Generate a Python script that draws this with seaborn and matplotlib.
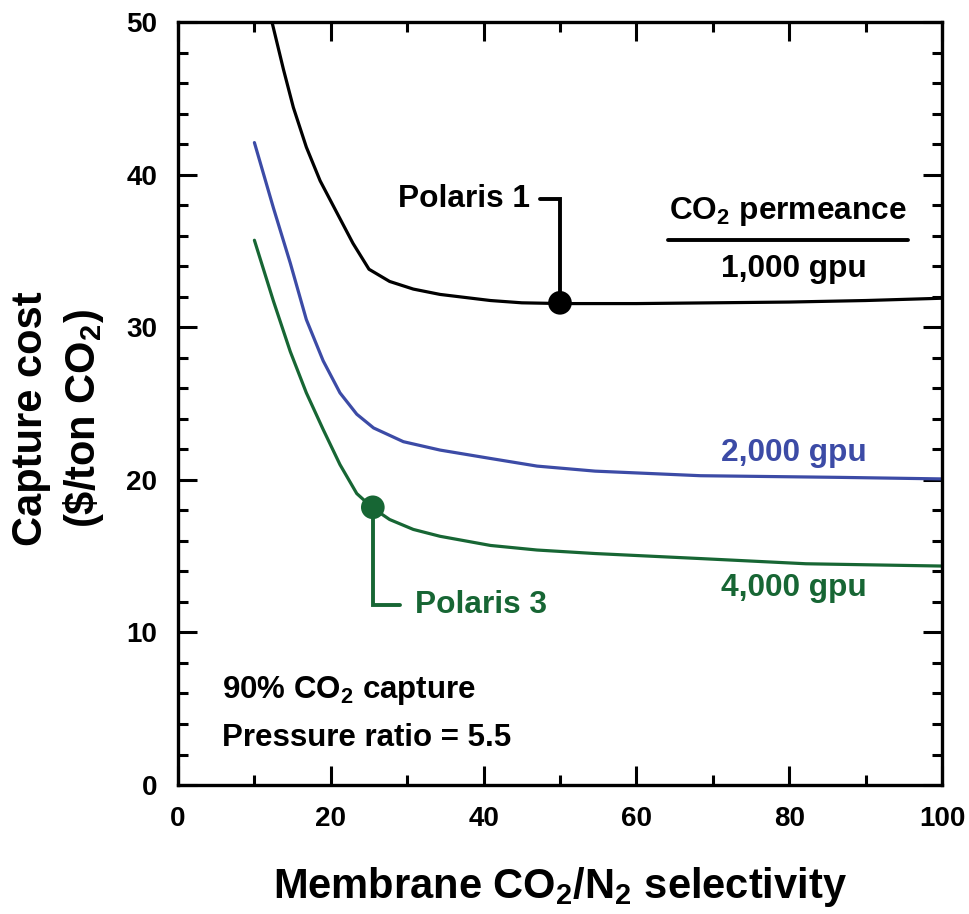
import numpy as np
import pandas as pd
import seaborn as sns
import matplotlib.pyplot as plt
from matplotlib.ticker import MultipleLocator

# values
sel_1000 = [12.3, 13.8, 15.1, 16.8, 18.6, 20.8, 22.9, 25.0, 27.7, 30.8, 34.3, 40.9, 45.0, 50.3,
            60.0, 70.0, 80.0, 90.0, 100.0]
cost_1000 = [50.0, 46.9, 44.4, 41.8, 39.6, 37.5, 35.5, 33.8, 33.0, 32.5, 32.15, 31.75, 31.6, 31.55,
             31.55, 31.6, 31.65, 31.75, 31.9]

sel_2000 = [10.0, 12.5, 14.7, 16.8, 19.0, 21.2, 23.4, 25.6, 29.5, 34.3, 40.9, 47.0, 54.6, 68.4, 86.8, 100.0]
cost_2000 = [42.1, 37.8, 34.2, 30.5, 27.8, 25.7, 24.3, 23.4, 22.5, 21.95, 21.4, 20.9, 20.57, 20.27, 20.16, 20.06]

sel_4000 = [10.0, 12.5, 14.7, 16.8, 19.0, 21.2, 23.4, 25.5, 27.7, 30.8, 34.3, 40.9, 47.0, 54.6, 68.4, 82.2, 100.0]
cost_4000 = [35.7, 31.7, 28.4, 25.7, 23.3, 21.0, 19.1, 18.15, 17.4, 16.75, 16.3, 15.7, 15.4, 15.17, 14.84, 14.5, 14.35]

permeances = ['1,000 gpu', '2,000 gpu', '4,000 gpu']
colors = ['#000000', '#3C4BA6', '#176634']

polaris_names = ['Polaris 1', 'Polaris 3']
polaris_sel = [50.0, 25.5]
polaris_cost = [31.6, 18.2]

df = pd.concat([
    pd.DataFrame({'sel': sel_1000, 'cost': cost_1000, 'perm': permeances[0]}),
    pd.DataFrame({'sel': sel_2000, 'cost': cost_2000, 'perm': permeances[1]}),
    pd.DataFrame({'sel': sel_4000, 'cost': cost_4000, 'perm': permeances[2]}),
])
pts = pd.DataFrame({'sel': polaris_sel, 'cost': polaris_cost, 'name': polaris_names})

sns.set_style('ticks')
plt.rcParams['font.family'] = ['Liberation Sans', 'DejaVu Sans']
plt.rcParams['font.weight'] = 'bold'
plt.rcParams['axes.labelweight'] = 'bold'
plt.rcParams['text.color'] = 'black'
plt.rcParams['axes.labelcolor'] = 'black'
plt.rcParams['xtick.color'] = 'black'
plt.rcParams['ytick.color'] = 'black'
plt.rcParams['mathtext.fontset'] = 'custom'
plt.rcParams['mathtext.rm'] = 'Liberation Sans:bold'
plt.rcParams['mathtext.bf'] = 'Liberation Sans:bold'
plt.rcParams['mathtext.it'] = 'Liberation Sans:bold'

fig = plt.figure(figsize=(9.69, 9.14), dpi=100)
ax = fig.add_axes([0.1837, 0.1411, 0.7884, 0.8348])

sns.lineplot(data=df, x='sel', y='cost', hue='perm', palette=dict(zip(permeances, colors)),
             sort=False, estimator=None, lw=2.3, legend=False, ax=ax)
sns.scatterplot(data=pts, x='sel', y='cost', hue='name', palette=[colors[0], colors[2]],
                s=290, edgecolor='none', legend=False, ax=ax, zorder=5)

# leader lines for Polaris labels
ax.plot([polaris_sel[0] - 2.6, polaris_sel[0], polaris_sel[0]],
        [38.4, 38.4, polaris_cost[0]], color=colors[0], lw=2.8, solid_joinstyle='miter')
ax.text(polaris_sel[0] - 3.9, 38.4, polaris_names[0], ha='right', va='center', fontsize=22.8, color=colors[0])
ax.plot([polaris_sel[1], polaris_sel[1], polaris_sel[1] + 3.6],
        [polaris_cost[1], 11.8, 11.8], color=colors[2], lw=2.8, solid_joinstyle='miter')
ax.text(polaris_sel[1] + 5.5, 11.8, polaris_names[1], ha='left', va='center', fontsize=22.8, color=colors[2])

# permeance "legend"
ax.text(79.8, 37.6, r'CO$_2$ permeance', ha='center', va='center', fontsize=22.8)
ax.plot([64.1, 95.5], [35.7, 35.7], color='black', lw=2.8)
for lab, c, yy in zip(permeances, colors, [33.8, 21.75, 12.9]):
    ax.text(80.6, yy, lab, ha='center', va='center', fontsize=22.8, color=c)

ax.text(5.8, 6.2, r'90% CO$_2$ capture', ha='left', va='center', fontsize=22.5)
ax.text(5.8, 3.1, 'Pressure ratio = 5.5', ha='left', va='center', fontsize=22.5)

ax.set_xlim(0, 100)
ax.set_ylim(0, 50)
ax.xaxis.set_major_locator(MultipleLocator(20))
ax.xaxis.set_minor_locator(MultipleLocator(10))
ax.yaxis.set_major_locator(MultipleLocator(10))
ax.yaxis.set_minor_locator(MultipleLocator(2))
ax.tick_params(which='both', direction='in', top=True, right=True, width=2.2, color='black')
ax.tick_params(which='major', length=14, labelsize=20, pad=15)
ax.tick_params(which='minor', length=7)
for s in ax.spines.values():
    s.set_linewidth(2.4)
    s.set_color('black')

ax.set_xlabel(r'Membrane CO$_2$/N$_2$ selectivity', fontsize=30, labelpad=24)
ax.set_ylabel('Capture cost\n(\\$/ton CO$_2$)', fontsize=30, linespacing=1.3)
ax.yaxis.set_label_coords(-0.094, 0.48)

fig.savefig('out.png', dpi=100)
